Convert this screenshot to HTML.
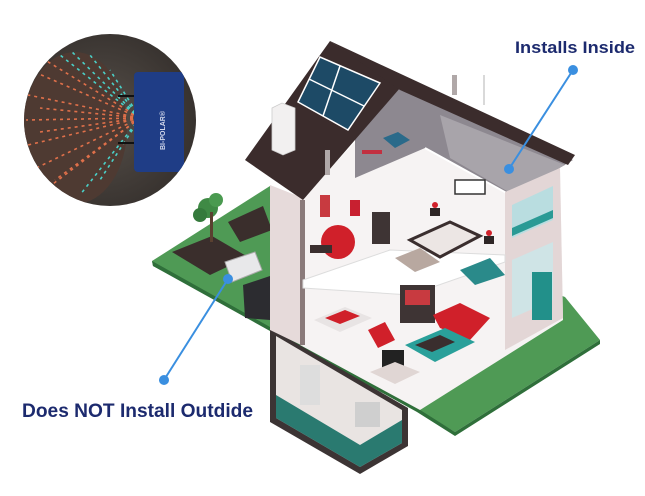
<!DOCTYPE html>
<html><head><meta charset="utf-8"><style>
html,body{margin:0;padding:0;background:#fff;width:645px;height:496px;overflow:hidden}
svg{display:block}
</style></head><body>
<svg width="645" height="496" viewBox="0 0 645 496" xmlns="http://www.w3.org/2000/svg">
<defs>
<clipPath id="cc"><circle cx="110" cy="120" r="86"/></clipPath>
<radialGradient id="bg" cx="0.45" cy="0.5" r="0.6"><stop offset="0" stop-color="#57504a"/><stop offset="1" stop-color="#332e2b"/></radialGradient>
</defs>
<!-- lawn -->
<polygon points="152,261 270,186 565,297 600,340 455,432 417,409 270,328 153,266" fill="#4f9a55"/>
<polygon points="153,266 270,331 417,412 455,436 600,344 600,340 455,432 417,408 270,327 152,261" fill="#2f6f3a"/>
<!-- garden beds -->
<polygon points="172,252 212,236 248,257 210,275" fill="#3a2e2c"/>
<polygon points="228,222 263,206 272,230 240,242" fill="#3a2e2c"/>
<circle cx="208" cy="208" r="10" fill="#3f8a45"/><circle cx="200" cy="215" r="7" fill="#357a3c"/><circle cx="216" cy="200" r="7" fill="#4a9a50"/>
<rect x="210" y="212" width="3" height="30" fill="#5a4030"/>
<polygon points="225,262 255,252 262,270 232,282" fill="#e8e8ea" stroke="#aaa" stroke-width="1"/>
<polygon points="243,285 270,276 270,320 245,318" fill="#2c2c30"/>
<!-- basement -->
<polygon points="270,328 408,408 408,446 360,474 270,422" fill="#3c3434"/>
<polygon points="276,336 402,410 402,443 360,467 276,418" fill="#e9e4e2"/>
<polygon points="276,395 360,445 402,420 402,443 360,467 276,418" fill="#2a7a70"/>
<rect x="300" y="365" width="20" height="40" fill="#ddd"/><rect x="355" y="402" width="25" height="25" fill="#cfcfcf"/>
<!-- house interior -->
<polygon points="300,200 400,95 560,168 563,320 420,410 300,345" fill="#f6f3f3"/>
<!-- attic -->
<polygon points="355,125 400,88 573,160 512,196 425,148 355,178" fill="#8d8890"/>
<polygon points="440,115 565,165 512,194 450,158" fill="#a8a4aa"/>
<line x1="425" y1="148" x2="512" y2="196" stroke="#fff" stroke-width="2"/>
<!-- left wall -->
<polygon points="270,185 303,198 303,346 270,330" fill="#e6dada"/>
<rect x="300" y="200" width="5" height="145" fill="#8a7a7a"/>
<!-- right wall -->
<polygon points="505,192 560,168 563,318 505,350" fill="#e3d6d6"/>
<polygon points="512,205 553,186 553,220 512,238" fill="#b9dde0"/>
<polygon points="512,228 553,210 553,218 512,236" fill="#2a9a95"/>
<polygon points="512,260 553,242 553,300 512,318" fill="#cfe4e6"/>
<rect x="532" y="272" width="20" height="48" fill="#22908a"/>
<!-- floor slabs -->
<polygon points="303,280 390,250 505,255 505,262 410,295 303,288" fill="#ffffff" stroke="#ddd" stroke-width="1"/>
<!-- roof -->
<polygon points="330,41 245,160 303,200 400,88" fill="#3b2c2c"/>
<polygon points="330,41 575,155 568,165 400,90" fill="#3b2c2c"/>
<polygon points="298,102 320,57 380,83 348,130" fill="#1d4a66" stroke="#fff" stroke-width="1.5"/>
<line x1="309" y1="79" x2="364" y2="106" stroke="#fff" stroke-width="1.5"/>
<line x1="340" y1="66" x2="323" y2="116" stroke="#fff" stroke-width="1.5"/>
<polygon points="272,108 282,103 295,108 295,150 283,155 272,150" fill="#f2f0f0" stroke="#ccc" stroke-width="0.8"/>
<rect x="325" y="150" width="5" height="25" fill="#b0a8a8"/>
<rect x="452" y="75" width="5" height="20" fill="#b0a8a8"/>
<line x1="484" y1="75" x2="484" y2="105" stroke="#ccc" stroke-width="1.5"/>
<!-- duct -->
<polygon points="383,138 398,132 410,140 395,148" fill="#2a6a8a"/>
<rect x="362" y="150" width="20" height="4" fill="#c23040"/>
<!-- furniture -->
<circle cx="338" cy="242" r="17" fill="#d0202a"/>
<rect x="310" y="245" width="22" height="8" fill="#3a2e2e"/>
<rect x="372" y="212" width="18" height="32" fill="#3e3434"/>
<polygon points="410,240 450,222 480,236 440,257" fill="#ece6e4" stroke="#3a2e2e" stroke-width="3"/>
<polygon points="395,258 420,248 440,262 415,272" fill="#b8a8a0"/>
<rect x="430" y="208" width="10" height="8" fill="#2e2626"/><rect x="484" y="236" width="10" height="8" fill="#2e2626"/>
<circle cx="435" cy="205" r="3" fill="#d0202a"/><circle cx="489" cy="233" r="3" fill="#d0202a"/>
<polygon points="314,320 345,307 372,318 340,332" fill="#e8e4e4"/>
<polygon points="325,318 345,310 360,316 340,324" fill="#d0202a"/>
<rect x="400" y="285" width="35" height="38" fill="#3e3434"/>
<rect x="405" y="290" width="25" height="15" fill="#c83a40"/>
<polygon points="433,315 460,303 490,318 470,340 440,328" fill="#d0202a"/>
<polygon points="405,345 445,328 475,342 435,362" fill="#2aa09a"/>
<polygon points="415,345 440,335 455,342 432,352" fill="#3a2e2e"/>
<rect x="382" y="350" width="22" height="18" fill="#222"/>
<polygon points="370,372 395,362 420,372 395,384" fill="#e0d6d4"/>
<polygon points="368,330 385,322 395,340 378,348" fill="#d0202a"/>
<polygon points="460,270 490,258 505,275 475,285" fill="#2a8a8a"/>
<rect x="320" y="195" width="10" height="22" fill="#c83a40"/><rect x="350" y="200" width="10" height="16" fill="#c82030"/>
<rect x="455" y="180" width="30" height="14" fill="#fff" stroke="#333" stroke-width="1.5"/>
<!-- circle inset -->
<g clip-path="url(#cc)">
<rect x="20" y="30" width="180" height="180" fill="url(#bg)"/>
<ellipse cx="75" cy="128" rx="52" ry="76" fill="#4e3a32"/>
<g stroke-dasharray="3 4" stroke-width="1.6">
<line x1="140" y1="118" x2="30" y2="70" stroke="#e0704a"/><line x1="140" y1="118" x2="28" y2="95" stroke="#e0704a"/>
<line x1="140" y1="118" x2="26" y2="120" stroke="#e0704a"/><line x1="140" y1="118" x2="28" y2="145" stroke="#e0704a"/>
<line x1="140" y1="118" x2="32" y2="170" stroke="#e0704a"/><line x1="140" y1="118" x2="45" y2="190" stroke="#e0704a"/>
<line x1="140" y1="118" x2="45" y2="60" stroke="#e0704a"/><line x1="140" y1="118" x2="40" y2="108" stroke="#e0704a"/>
<line x1="140" y1="118" x2="40" y2="132" stroke="#e0704a"/><line x1="140" y1="118" x2="55" y2="180" stroke="#e0704a"/>
<line x1="140" y1="118" x2="70" y2="50" stroke="#4ad0c8"/><line x1="140" y1="118" x2="90" y2="55" stroke="#4ad0c8"/>
<line x1="140" y1="118" x2="110" y2="70" stroke="#4ad0c8"/><line x1="140" y1="118" x2="80" y2="195" stroke="#4ad0c8"/>
<line x1="140" y1="118" x2="100" y2="180" stroke="#4ad0c8"/><line x1="140" y1="118" x2="60" y2="55" stroke="#4ad0c8"/>
</g>
<rect x="134" y="72" width="50" height="100" rx="4" fill="#1f3d86"/>
<text x="0" y="0" transform="translate(165,150) rotate(-90)" font-family="Liberation Sans, sans-serif" font-size="7" fill="#cfd6ea" font-weight="bold">BI-POLAR®</text>
<line x1="118" y1="96" x2="134" y2="96" stroke="#111" stroke-width="2"/><line x1="118" y1="143" x2="134" y2="143" stroke="#111" stroke-width="2"/>
</g>
<!-- callouts -->
<line x1="573" y1="70" x2="509" y2="169" stroke="#3a8fe0" stroke-width="2"/>
<circle cx="573" cy="70" r="5" fill="#3a8fe0"/><circle cx="509" cy="169" r="5" fill="#3a8fe0"/>
<line x1="164" y1="380" x2="228" y2="279" stroke="#3a8fe0" stroke-width="2"/>
<circle cx="164" cy="380" r="5" fill="#3a8fe0"/><circle cx="228" cy="279" r="5" fill="#3a8fe0"/>
<text x="515" y="53" font-family="Liberation Sans, sans-serif" font-weight="bold" font-size="17" fill="#1c2a6e" textLength="120" lengthAdjust="spacingAndGlyphs">Installs Inside</text>
<text x="22" y="417" font-family="Liberation Sans, sans-serif" font-weight="bold" font-size="19" fill="#1c2a6e" textLength="231" lengthAdjust="spacingAndGlyphs">Does NOT Install Outdide</text>
</svg>
</body></html>
